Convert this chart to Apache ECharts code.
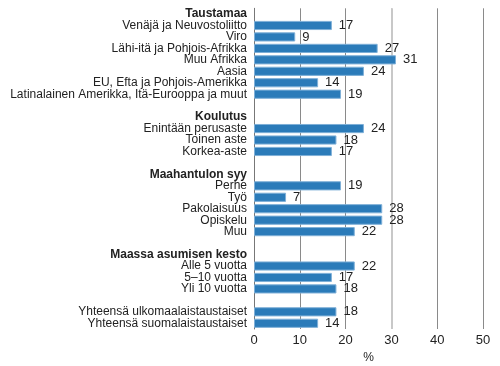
<!DOCTYPE html>
<html><head><meta charset="utf-8">
<script src="https://cdn.jsdelivr.net/npm/echarts@6/dist/echarts.min.js"></script>
<style>html,body{margin:0;padding:0;background:#fff}#c{width:500px;height:366px}</style>
</head><body><div id="c"></div>
<script>
// Row labels (H: = group header, blank = spacer)
const categories = [
  'H:Taustamaa','Venäjä ja Neuvostoliitto','Viro','Lähi-itä ja Pohjois-Afrikka','Muu Afrikka','Aasia','EU, Efta ja Pohjois-Amerikka','Latinalainen Amerikka, Itä-Eurooppa ja muut',
  '',
  'H:Koulutus','Enintään perusaste','Toinen aste','Korkea-aste',
  ' ',
  'H:Maahantulon syy','Perhe','Työ','Pakolaisuus','Opiskelu','Muu',
  '  ',
  'H:Maassa asumisen kesto','Alle 5 vuotta','5–10 vuotta','Yli 10 vuotta',
  '   ',
  'Yhteensä ulkomaalaistaustaiset','Yhteensä suomalaistaustaiset'
];
const values = [
  null,17,9,27,31,24,14,19,
  null,
  null,24,18,17,
  null,
  null,19,7,28,28,22,
  null,
  null,22,17,18,
  null,
  18,14
];
const xTicks = [0,10,20,30,40,50];
const axisName = '%';

const chart = echarts.init(document.getElementById('c'), null, {renderer:'canvas'});
chart.setOption({
  animation:false,
  grid:{left:254,right:17,top:8.3,bottom:37,containLabel:false,outerBoundsMode:'none'},
  xAxis:{
    type:'value',min:xTicks[0],max:xTicks[xTicks.length-1],interval:10,
    name:axisName,nameLocation:'middle',nameGap:18,
    nameTextStyle:{color:'#222',fontSize:12,fontFamily:'Liberation Sans, Arial'},
    axisLine:{show:false},axisTick:{show:false},
    axisLabel:{color:'#222',fontSize:13,fontFamily:'Liberation Sans, Arial',margin:5},
    splitLine:{show:true,lineStyle:{color:['#7a7a7a','#8a8a8a','#8a8a8a','#c8c8c8','#8a8a8a','#8a8a8a'],width:1}}
  },
  yAxis:{
    type:'category',inverse:true,data:categories,
    axisLine:{show:true,lineStyle:{color:'#777',width:1}},
    axisTick:{show:false},
    axisLabel:{
      interval:0,margin:7,color:'#222',fontSize:12,fontFamily:'Liberation Sans, Arial',
      formatter:function(v){ if(v.indexOf('H:')===0) return '{b|'+v.slice(2)+'}'; return v.trim(); },
      rich:{b:{fontWeight:'bold',fontSize:12,color:'#222',fontFamily:'Liberation Sans, Arial'}}
    }
  },
  series:[{
    type:'bar',data:values,barCategoryGap:'20%',
    itemStyle:{color:'#2b7bb9',borderColor:'#7fb0d8',borderWidth:1},
    label:{show:true,position:'right',distance:7,color:'#222',fontSize:13,fontFamily:'Liberation Sans, Arial'},
    markLine:{silent:true,symbol:'none',label:{show:false},
      lineStyle:{color:'#c8c8c8',width:2,type:'solid'},data:[{xAxis:30}],z:1}
  }]
});
</script></body></html>
